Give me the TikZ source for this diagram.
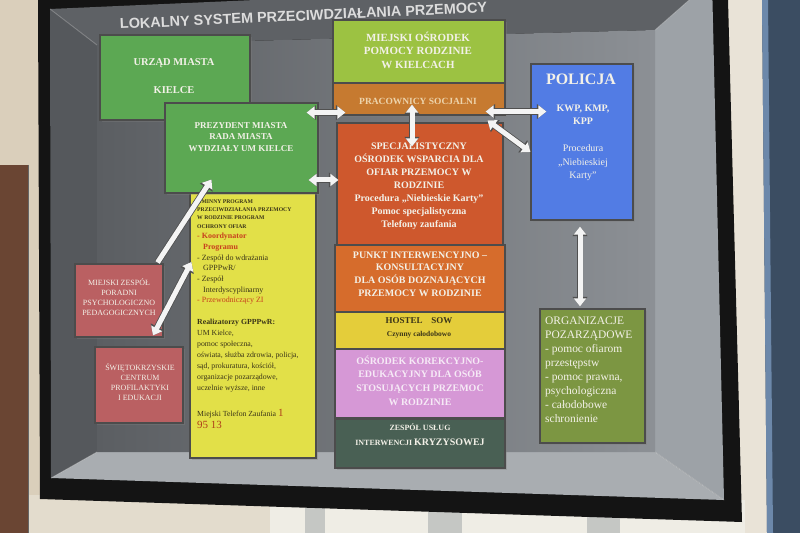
\documentclass[tikz,border=0pt]{standalone}
\usepackage{fontspec}
\setmainfont{Liberation Serif}
\newfontfamily\titlefont{Liberation Sans}
\usetikzlibrary{arrows.meta,calc,shadows}

\definecolor{wallc}{HTML}{DACFBB}
\definecolor{wallb}{HTML}{E3DCCD}
\definecolor{cabc}{HTML}{6A4533}
\definecolor{framec}{HTML}{141414}
\definecolor{curtc}{HTML}{3B4D62}
\definecolor{curtl}{HTML}{6C88AA}
\definecolor{winc}{HTML}{EFEDE5}
\definecolor{mullc}{HTML}{C5C7C4}
\definecolor{bevL}{HTML}{55585C}
\definecolor{bevT}{HTML}{5E6165}
\definecolor{bevR}{HTML}{9DA2A7}
\definecolor{bevB}{HTML}{A9ADB1}
\definecolor{inL}{HTML}{5B5E62}
\definecolor{inR}{HTML}{8C9095}
\definecolor{cgreen}{HTML}{5CA853}
\definecolor{clime}{HTML}{9CC242}
\definecolor{cprac}{HTML}{C67A30}
\definecolor{csow}{HTML}{CE582D}
\definecolor{cpunkt}{HTML}{D66C2C}
\definecolor{chostel}{HTML}{E4CD3A}
\definecolor{ckorek}{HTML}{D698D6}
\definecolor{czesp}{HTML}{496054}
\definecolor{cpol}{HTML}{527CE4}
\definecolor{corg}{HTML}{7C9642}
\definecolor{crose}{HTML}{BA6062}
\definecolor{cprog}{HTML}{E2E048}
\definecolor{txtw}{HTML}{F3F1E8}
\definecolor{txtprac}{HTML}{EDD4AC}
\definecolor{txtk}{HTML}{F6EAF6}
\definecolor{txtd}{HTML}{3A3418}
\definecolor{yred}{HTML}{C8401E}
\definecolor{telred}{HTML}{B0401A}
\definecolor{titc}{HTML}{DCDCDC}
\definecolor{arrw}{HTML}{F4F4F4}
\definecolor{arrb}{HTML}{505050}

\tikzset{
  box/.style={draw=black!70, line width=1.1bp, inner sep=0pt,
    drop shadow={shadow xshift=2bp, shadow yshift=-2bp, opacity=0.35}},
  lbl/.style={text=txtw, align=center, inner sep=0pt},
  ltxt/.style={text=txtd, align=left, inner sep=0pt, anchor=north west},
  dbl/.style={draw=arrw, line width=5bp,
    {Triangle[width=12bp,length=8bp]}-{Triangle[width=12bp,length=8bp]},
    preaction={draw=arrb, line width=6.6bp,
      {Triangle[width=14.5bp,length=9.6bp]}-{Triangle[width=14.5bp,length=9.6bp]}}},
  sgl/.style={draw=arrw, line width=5bp, -{Triangle[width=12bp,length=8bp]},
    preaction={draw=arrb, line width=6.6bp, -{Triangle[width=14.5bp,length=9.6bp]}}}
}

\begin{document}
\begin{tikzpicture}[x=1bp,y=-1bp]
\useasboundingbox (0,0) rectangle (800,533);
\clip (0,0) rectangle (800,533);

% room background
\fill[wallc] (0,0) rectangle (800,533);
\fill[wallb] (0,495) rectangle (280,533);
\fill[cabc] (0,165) rectangle (28,533);
\draw[black!60, line width=1bp] (28,165) -- (28,533);
\fill[wallb!80!white] (728,0) -- (762,0) -- (767,533) -- (742,533) -- cycle;
\fill[curtc] (762,0) -- (800,0) -- (800,533) -- (767,533) -- cycle;
\fill[curtl] (762,0) -- (768,0) -- (773,533) -- (767,533) -- cycle;
\fill[winc] (270,500) rectangle (745,533);
\fill[mullc] (305,500) rectangle (325,533);
\fill[mullc] (428,500) rectangle (462,533);
\fill[mullc] (587,500) rectangle (620,533);

% screen frame
\fill[framec] (38,0) -- (728,0) -- (742,522) -- (40,499) -- cycle;

% slide with bevels
\fill[bevL] (50,9) -- (97,45) -- (97,452) -- (51,478) -- cycle;
\fill[bevT] (50,9) -- (712,-20) -- (655,30) -- (97,45) -- cycle;
\fill[bevR] (712,-20) -- (724,500) -- (655,452) -- (655,30) -- cycle;
\fill[bevB] (51,478) -- (97,452) -- (655,452) -- (724,500) -- cycle;
\shade[left color=inL, right color=inR] (97,45) -- (655,30) -- (655,452) -- (97,452) -- cycle;
\draw[white!75!gray, opacity=0.35, line width=0.8bp] (50,9) -- (97,45) (655,452) -- (724,500) (51,478) -- (97,452) (712,-20) -- (655,30);

% title
\node[anchor=base west, inner sep=0pt, rotate=2.6, text=titc,
      font=\titlefont\fontsize{14.5}{16}\selectfont\bfseries] (title) at (120,29)
      {LOKALNY SYSTEM PRZECIWDZIAŁANIA PRZEMOCY};

% boxes
\node[box, fill=cgreen, minimum width=150bp, minimum height=85bp] (urzad) at (175,77.5) {};
\node[box, fill=cprog, minimum width=126bp, minimum height=270bp] (prog) at (253,323) {};
\node[box, fill=cgreen, minimum width=153bp, minimum height=90bp] (prez) at (241.5,148) {};
\node[box, fill=clime, minimum width=172bp, minimum height=63bp] (mops) at (419,51.5) {};
\node[box, fill=cprac, minimum width=172bp, minimum height=32bp] (prac) at (419,99) {};
\node[box, fill=csow, minimum width=166bp, minimum height=122bp] (sow) at (420,184) {};
\node[box, fill=cpunkt, minimum width=170bp, minimum height=67bp] (punkt) at (420,278.5) {};
\node[box, fill=chostel, minimum width=170bp, minimum height=37bp] (hostel) at (420,330.5) {};
\node[box, fill=ckorek, minimum width=170bp, minimum height=69bp] (korek) at (420,383.5) {};
\node[box, fill=czesp, minimum width=170bp, minimum height=49bp] (zesp) at (420,443.5) {};
\node[box, fill=cpol, minimum width=102bp, minimum height=156bp] (policja) at (582,142) {};
\node[box, fill=corg, minimum width=105bp, minimum height=134bp] (org) at (592.5,376) {};
\node[box, fill=crose, minimum width=88bp, minimum height=73bp] (mzp) at (119,300.5) {};
\node[box, fill=crose, minimum width=88bp, minimum height=76bp] (scp) at (139,385) {};

% texts
\node[lbl, font=\fontsize{10.5}{12}\selectfont\bfseries] (urzad-t) at (174,76)
  {URZĄD MIASTA\\[16bp]KIELCE};
\node[lbl, font=\fontsize{9}{11.7}\selectfont\bfseries] (prez-t) at (241,137)
  {PREZYDENT MIASTA\\RADA MIASTA\\WYDZIAŁY UM KIELCE};
\node[lbl, font=\fontsize{11}{13.5}\selectfont\bfseries] (mops-t) at (418,50)
  {MIEJSKI OŚRODEK\\POMOCY RODZINIE\\W KIELCACH};
\node[lbl, text=txtprac, font=\fontsize{9.5}{11}\selectfont\bfseries] (prac-t) at (418,101)
  {PRACOWNICY SOCJALNI};
\node[lbl, font=\fontsize{10}{13}\selectfont\bfseries] (sow-t) at (419,186)
  {SPECJALISTYCZNY\\OŚRODEK WSPARCIA DLA\\OFIAR PRZEMOCY W\\RODZINIE\\Procedura „Niebieskie Karty”\\Pomoc specjalistyczna\\Telefony zaufania};
\node[lbl, font=\fontsize{10}{12.7}\selectfont\bfseries] (punkt-t) at (420,274)
  {PUNKT INTERWENCYJNO –\\KONSULTACYJNY\\DLA OSÓB DOZNAJĄCYCH\\PRZEMOCY W RODZINIE};
\node[lbl, text=txtd, font=\fontsize{9}{13}\selectfont\bfseries] (hostel-t) at (419,327.5)
  {HOSTEL\quad SOW\\{\fontsize{7.5}{9}\selectfont Czynny całodobowo}};
\node[lbl, text=txtk, font=\fontsize{10}{13.7}\selectfont\bfseries] (korek-t) at (420,380.5)
  {OŚRODEK KOREKCYJNO-\\EDUKACYJNY DLA OSÓB\\STOSUJĄCYCH PRZEMOC\\W RODZINIE};
\node[lbl, font=\fontsize{8}{12}\selectfont\bfseries] (zesp-t) at (420,435)
  {ZESPÓŁ USŁUG\\[3bp]INTERWENCJI {\fontsize{10}{12}\selectfont KRYZYSOWEJ}};
\node[lbl, font=\fontsize{16}{18}\selectfont\bfseries] (pol-t1) at (581,79) {POLICJA};
\node[lbl, font=\fontsize{10}{13}\selectfont\bfseries] (pol-t2) at (583,115) {KWP, KMP,\\KPP};
\node[lbl, font=\fontsize{10}{13.5}\selectfont] (pol-t3) at (583,163)
  {Procedura\\„Niebieskiej\\Karty”};
\node[lbl, align=left, anchor=west, font=\fontsize{11.5}{14.1}\selectfont] (org-t) at (545,369.5)
  {ORGANIZACJE\\POZARZĄDOWE\\- pomoc ofiarom\\przestępstw\\- pomoc prawna,\\psychologiczna\\- całodobowe\\schronienie};
\node[lbl, font=\fontsize{8}{10}\selectfont] (mzp-t) at (119,297)
  {MIEJSKI ZESPÓŁ\\PORADNI\\PSYCHOLOGICZNO\\PEDAGOGICZNYCH};
\node[lbl, font=\fontsize{8}{10}\selectfont] (scp-t) at (140,382)
  {ŚWIĘTOKRZYSKIE\\CENTRUM\\PROFILAKTYKI\\I EDUKACJI};

% yellow programme texts
\node[ltxt, font=\fontsize{5.7}{8.3}\selectfont\bfseries] (yhead) at (197,199.5)
  {GMINNY PROGRAM\\PRZECIWDZIAŁANIA PRZEMOCY\\W RODZINIE PROGRAM\\OCHRONY OFIAR};
\node[ltxt, font=\fontsize{8}{10.7}\selectfont] (ylist) at (197,233)
  {{\color{yred}\bfseries - Koordynator}\\{\color{yred}\bfseries\hspace*{6bp}Programu}\\- Zespół do wdrażania\\\hspace*{6bp}GPPPwR/\\- Zespół\\\hspace*{6bp}Interdyscyplinarny\\{\color{yred}- Przewodniczący ZI}};
\node[ltxt, font=\fontsize{7.8}{11}\selectfont] (yreal) at (197,319)
  {{\bfseries Realizatorzy GPPPwR:}\\UM Kielce,\\pomoc społeczna,\\oświata, służba zdrowia, policja,\\sąd, prokuratura, kościół,\\organizacje pozarządowe,\\uczelnie wyższe, inne};
\node[ltxt, font=\fontsize{7.8}{12}\selectfont] (ytel) at (197,409)
  {Miejski Telefon Zaufania {\color{telred}\fontsize{11}{12}\selectfont 1}\\{\color{telred}\fontsize{11}{12}\selectfont 95 13}};

% connectors
\draw[dbl] ($(prez.east |- prac.south)+(-12,-3)$) -- ($(prac.south west)+(13,-3)$);
\draw[dbl] ($(prez.east)+(-10,32)$) -- ($(sow.west)+(2,-4)$);
\draw[dbl] ($(prac.south)+(-7,-11)$) -- ($(sow.north)+(-8,24)$);
\draw[dbl] ($(prac.south east)+(-20,-4)$) -- ($(policja.west |- prac.south)+(16,-4)$);
\draw[dbl] ($(sow.north east)+(-16,-2)$) -- ($(policja.west)+(0,10)$);
\draw[dbl] ($(policja.south)+(-2,6)$) -- ($(org.north)+(-12.5,-2)$);
\draw[sgl] ($(mzp.north east)+(-6,-1)$) -- ($(prez.south west)+(47,-14)$);
\draw[dbl] ($(scp.north)+(14,-11)$) -- ($(prog.west)+(2,-61)$);
\end{tikzpicture}
\end{document}
